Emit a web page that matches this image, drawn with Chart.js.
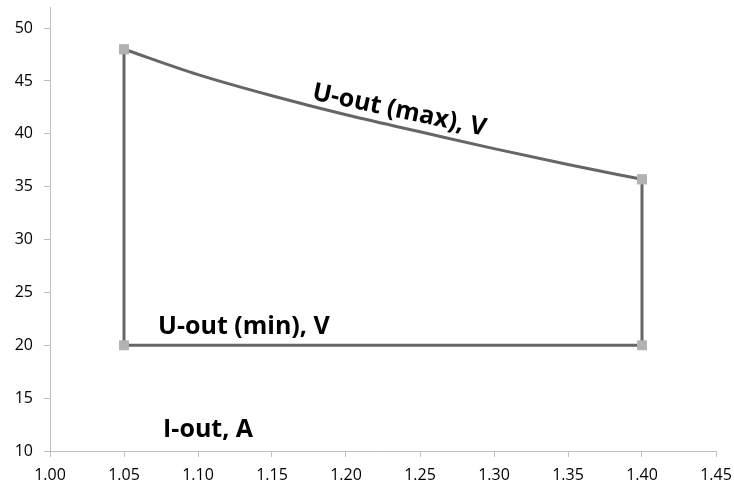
<!DOCTYPE html>
<html>
<head>
<meta charset="utf-8">
<script src="https://cdn.jsdelivr.net/npm/chart.js@4"></script>
<style>
  html, body { margin: 0; padding: 0; background: #fff; }
  #wrap { width: 734px; height: 489px; }
</style>
</head>
<body>
<div id="wrap"><canvas id="myChart"></canvas></div>
<script>
// I-out, A
const maxCurrent = [1.05, 1.10, 1.15, 1.20, 1.25, 1.30, 1.35, 1.40];
// U-out (max), V
const maxVoltage = [48.0, 45.6, 43.6, 41.8, 40.2, 38.6, 37.1, 35.7];
// frame: right edge, bottom (min) line, left edge
const frameCurrent = [1.40, 1.40, 1.05, 1.05];
const frameVoltage = [35.7, 20.0, 20.0, 48.0];
const xTicks = [1.00, 1.05, 1.10, 1.15, 1.20, 1.25, 1.30, 1.35, 1.40, 1.45];
const yTicks = [10, 15, 20, 25, 30, 35, 40, 45, 50];

const lineColor = "#666666";
const markColor = "#b2b2b2";
const axisColor = "#bfbfbf";

const toPoints = (xs, ys) => xs.map((x, i) => ({ x: x, y: ys[i] }));

const labelPlugin = {
	id: "textLabels",
	afterDatasetsDraw(chart) {
		const ctx = chart.ctx;
		const xs = chart.scales.x;
		const ys = chart.scales.y;
		const put = (text, x, y, angle) => {
			ctx.save();
			ctx.translate(xs.getPixelForValue(x), ys.getPixelForValue(y));
			ctx.rotate(angle * Math.PI / 180);
			ctx.font = "bold 25px 'Open Sans', sans-serif";
			ctx.fillStyle = "#000";
			ctx.textAlign = "center";
			ctx.textBaseline = "middle";
			ctx.fillText(text, 0, 0);
			ctx.restore();
		};
		put("U-out (max), V", 1.236, 42.2, 12);
		put("U-out (min), V", 1.131, 21.7, 0);
		put("I-out, A", 1.1068, 12.0, 0);
	},
};

const ctx = document.getElementById("myChart").getContext("2d");

new Chart(ctx, {
	type: "scatter",
	data: {
		datasets: [
			{
				data: toPoints(maxCurrent, maxVoltage),
				showLine: true,
				borderColor: lineColor,
				borderWidth: 3,
				cubicInterpolationMode: "monotone",
				pointStyle: "rect",
				pointRadius: maxCurrent.map((x, i) => (i === 0 || i === maxCurrent.length - 1 ? 7 : 0)),
				pointBackgroundColor: markColor,
				pointBorderColor: markColor,
				pointBorderWidth: 0,
			},
			{
				data: toPoints(frameCurrent, frameVoltage),
				showLine: true,
				borderColor: lineColor,
				borderWidth: 3,
				tension: 0,
				pointStyle: "rect",
				pointRadius: 7,
				pointBackgroundColor: markColor,
				pointBorderColor: markColor,
				pointBorderWidth: 0,
			},
		],
	},
	options: {
		responsive: true,
		maintainAspectRatio: false,
		animation: false,
		events: [],
		layout: {
			padding: { top: 7, right: 18, left: 0, bottom: 0 },
		},
		plugins: {
			legend: { display: false },
			tooltip: { enabled: false },
		},
		scales: {
			x: {
				type: "linear",
				min: 1.00,
				max: 1.45,
				afterBuildTicks: (axis) => {
					axis.ticks = xTicks.map((v) => ({ value: v }));
				},
				afterFit: (axis) => {
					axis.height = 38;
					axis.paddingLeft = 0;
					axis.paddingRight = 0;
				},
				grid: {
					display: true,
					drawOnChartArea: false,
					drawTicks: true,
					tickLength: 6,
					color: axisColor,
				},
				border: { color: axisColor, width: 1 },
				ticks: {
					color: "#000",
					font: { family: "'Open Sans', sans-serif", size: 16 },
					padding: 9,
					maxRotation: 0,
					callback: (v) => Number(v).toFixed(2),
				},
			},
			y: {
				type: "linear",
				min: 10,
				max: 52,
				afterBuildTicks: (axis) => {
					axis.ticks = yTicks.map((v) => ({ value: v }));
				},
				afterFit: (axis) => {
					axis.width = 50;
					axis.paddingTop = 0;
					axis.paddingBottom = 0;
				},
				grid: {
					display: true,
					drawOnChartArea: false,
					drawTicks: true,
					tickLength: 6,
					color: axisColor,
				},
				border: { color: axisColor, width: 1 },
				ticks: {
					color: "#000",
					font: { family: "'Open Sans', sans-serif", size: 16 },
					padding: 11,
				},
			},
		},
	},
	plugins: [labelPlugin],
});
</script>
</body>
</html>
